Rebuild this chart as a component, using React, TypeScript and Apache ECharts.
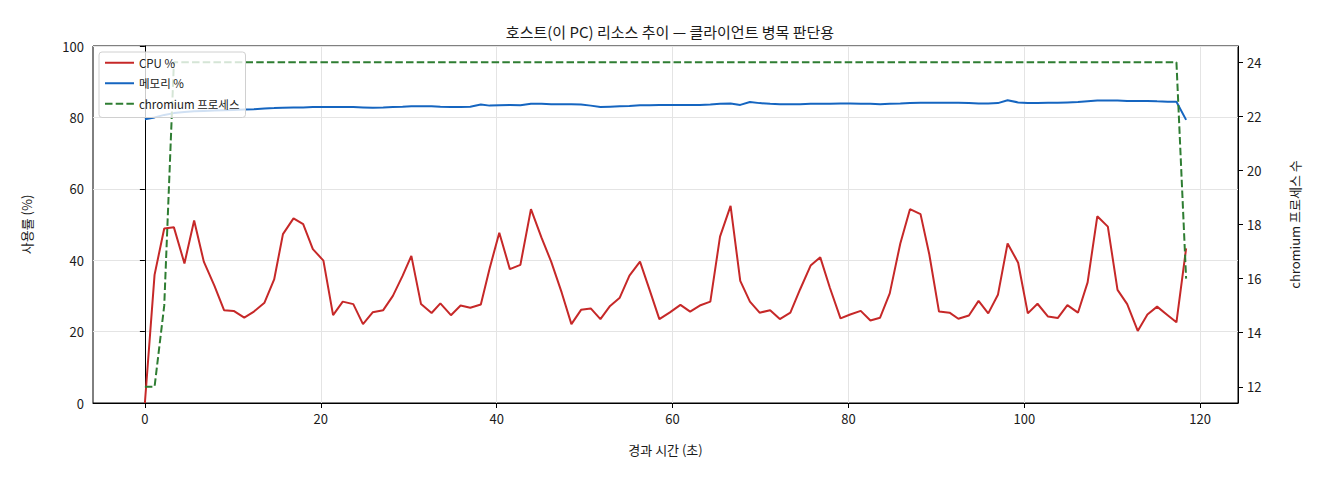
import React, { useEffect, useRef } from "react";
import * as echarts from "echarts";

// 경과 시간 (초)
const times: number[] = [
  0.0, 1.1, 2.2, 3.3, 4.5, 5.6, 6.7, 7.9, 9.0, 10.1, 11.3, 12.4, 13.6, 14.7, 15.7, 16.9,
  18.0, 19.1, 20.3, 21.4, 22.5, 23.7, 24.8, 25.9, 27.1, 28.2, 29.3, 30.3, 31.4, 32.6, 33.6,
  34.8, 35.9, 37.0, 38.2, 39.2, 40.3, 41.5, 42.7, 43.9, 45.1, 46.2, 47.4, 48.5, 49.6, 50.7,
  51.8, 52.9, 54.0, 55.1, 56.3, 57.4, 58.5, 59.7, 60.9, 62.0, 63.1, 64.3, 65.4, 66.6, 67.7,
  68.8, 69.9, 71.1, 72.2, 73.4, 74.5, 75.7, 76.8, 77.9, 79.1, 80.2, 81.4, 82.5, 83.6, 84.7,
  85.9, 87.0, 88.2, 89.2, 90.3, 91.5, 92.5, 93.7, 94.8, 95.9, 97.0, 98.1, 99.3, 100.4, 101.5,
  102.7, 103.8, 104.9, 106.1, 107.2, 108.3, 109.5, 110.6, 111.7, 112.9, 114.0, 115.1, 116.3,
  117.3, 118.4,
];

const cpu: number[] = [
  0, 35.9, 48.9, 49.2, 39.1, 51.1, 39.6, 32.9, 26.0, 25.8, 23.9, 25.6, 28.1, 34.6, 47.3, 51.7,
  50.1, 43.1, 39.9, 24.6, 28.4, 27.7, 22.1, 25.4, 26.0, 30.0, 35.6, 41.2, 27.7, 25.2, 27.9,
  24.6, 27.3, 26.7, 27.6, 37.7, 47.7, 37.5, 38.7, 54.3, 46.3, 39.6, 30.9, 22.1, 26.1, 26.5,
  23.5, 27.2, 29.5, 35.7, 39.6, 31.6, 23.5, 25.4, 27.5, 25.6, 27.3, 28.4, 46.6, 55.2, 34.2,
  28.4, 25.3, 26.0, 23.5, 25.3, 31.8, 38.5, 40.8, 32.2, 23.7, 24.8, 25.8, 23.1, 23.9, 30.7,
  44.7, 54.3, 52.9, 41.6, 25.6, 25.3, 23.6, 24.5, 28.6, 25.1, 30.3, 44.7, 39.3, 25.1, 27.8,
  24.2, 23.8, 27.4, 25.3, 33.8, 52.3, 49.4, 31.7, 27.7, 20.2, 24.8, 27.0, 24.6, 22.6, 43.3,
];

const memory: number[] = [
  79.5, 80.0, 80.7, 81.2, 81.5, 81.7, 81.8, 81.9, 82.0, 82.1, 82.2, 82.3, 82.5, 82.6, 82.7, 82.8,
  82.8, 82.9, 82.9, 82.9, 82.9, 82.9, 82.8, 82.7, 82.8, 82.9, 83.0, 83.1, 83.1, 83.1, 83.0,
  82.9, 82.9, 83.0, 83.6, 83.3, 83.4, 83.5, 83.4, 83.8, 83.8, 83.7, 83.7, 83.7, 83.6, 83.3,
  82.9, 83.0, 83.1, 83.2, 83.4, 83.4, 83.5, 83.5, 83.5, 83.5, 83.5, 83.6, 83.8, 83.9, 83.5,
  84.3, 84.0, 83.8, 83.7, 83.7, 83.7, 83.8, 83.8, 83.8, 83.9, 83.9, 83.8, 83.8, 83.7, 83.8,
  83.9, 84.0, 84.1, 84.1, 84.1, 84.1, 84.1, 84.0, 83.9, 83.9, 84.0, 84.8, 84.2, 84.0, 84.0,
  84.1, 84.1, 84.2, 84.3, 84.5, 84.7, 84.7, 84.7, 84.6, 84.6, 84.6, 84.5, 84.4, 84.4, 79.3,
];

const chromium: number[] = [
  12, 12, 15, 24, 24, 24, 24, 24, 24, 24, 24, 24, 24, 24, 24, 24, 24, 24, 24, 24, 24,
  24, 24, 24, 24, 24, 24, 24, 24, 24, 24, 24, 24, 24, 24, 24, 24, 24, 24, 24, 24, 24,
  24, 24, 24, 24, 24, 24, 24, 24, 24, 24, 24, 24, 24, 24, 24, 24, 24, 24, 24, 24, 24,
  24, 24, 24, 24, 24, 24, 24, 24, 24, 24, 24, 24, 24, 24, 24, 24, 24, 24, 24, 24, 24,
  24, 24, 24, 24, 24, 24, 24, 24, 24, 24, 24, 24, 24, 24, 24, 24, 24, 24, 24, 24, 24,
  16,
];

const xTicks = [0, 20, 40, 60, 80, 100, 120];
const rightTicks = [12, 14, 16, 18, 20, 22, 24];

const FONT = "'Noto Sans CJK KR', 'Noto Sans', sans-serif";
const TEXT = "#1a1a1a";

const pairs = (vals: number[]) => vals.map((v, i) => [times[i], v]);

const App: React.FC = () => {
  const chartRef = useRef<HTMLDivElement>(null);

  useEffect(() => {
    document.body.style.margin = "0";
    if (!chartRef.current) return;
    const chart = echarts.init(chartRef.current, null, { renderer: "svg" });

    const option: echarts.EChartsOption = {
      animation: false,
      backgroundColor: "#ffffff",
      textStyle: { fontFamily: FONT },
      title: {
        text: "호스트(이 PC) 리소스 추이 — 클라이언트 병목 판단용",
        left: 665,
        textAlign: "center",
        top: 19,
        textStyle: { fontSize: 15, fontWeight: "normal", color: TEXT, fontFamily: FONT },
      },
      legend: {
        left: 99,
        top: 52,
        orient: "vertical",
        itemWidth: 29,
        itemHeight: 14,
        itemGap: 9,
        padding: [5, 6, 8, 5],
        backgroundColor: "rgba(255,255,255,0.8)",
        borderColor: "#d0d0d0",
        borderWidth: 1,
        borderRadius: 3,
        itemStyle: { opacity: 0 },
        textStyle: { fontSize: 11.5, color: TEXT, fontFamily: FONT },
        data: ["CPU %", "메모리 %", "chromium 프로세스"],
      },
      grid: {
        left: 93,
        right: 82,
        top: 46,
        bottom: 77,
        show: true,
        borderColor: "#000",
        borderWidth: 1,
        backgroundColor: "transparent",
      },
      xAxis: {
        type: "value",
        min: -5.9,
        max: 124.3,
        name: "경과 시간 (초)",
        nameLocation: "middle",
        nameGap: 40,
        nameTextStyle: { fontSize: 13, color: TEXT },
        axisLine: { show: true, lineStyle: { color: "#000" } },
        axisTick: { show: true, length: 5, customValues: xTicks, lineStyle: { color: "#000" } },
        axisLabel: { customValues: xTicks, fontSize: 13, color: TEXT, margin: 9 },
        splitLine: { show: true, lineStyle: { color: "#e4e4e4" } },
      },
      yAxis: [
        {
          type: "value",
          min: 0,
          max: 100,
          interval: 20,
          name: "사용률 (%)",
          nameLocation: "middle",
          nameRotate: 90,
          nameGap: 60,
          nameTextStyle: { fontSize: 13, color: TEXT },
          axisLine: { show: true, lineStyle: { color: "#000" } },
          axisTick: { show: true, length: 5, lineStyle: { color: "#000" } },
          axisLabel: { fontSize: 13, color: TEXT, margin: 9 },
          splitLine: { show: true, lineStyle: { color: "#e4e4e4" } },
        },
        {
          type: "value",
          position: "right",
          min: 11.4,
          max: 24.6,
          name: "chromium 프로세스 수",
          nameLocation: "middle",
          nameRotate: 90,
          nameGap: 50,
          nameTextStyle: { fontSize: 13, color: TEXT },
          axisLine: { show: true, lineStyle: { color: "#000" } },
          axisTick: { show: true, length: 5, customValues: rightTicks, lineStyle: { color: "#000" } },
          axisLabel: { customValues: rightTicks, fontSize: 13, color: TEXT, margin: 9 },
          splitLine: { show: false },
        },
      ],
      series: [
        {
          name: "CPU %",
          type: "line",
          data: pairs(cpu),
          symbol: "none",
          lineStyle: { color: "#c62828", width: 2 },
          itemStyle: { color: "#c62828" },
        },
        {
          name: "메모리 %",
          type: "line",
          data: pairs(memory),
          symbol: "none",
          lineStyle: { color: "#1565c0", width: 2 },
          itemStyle: { color: "#1565c0" },
        },
        {
          name: "chromium 프로세스",
          type: "line",
          yAxisIndex: 1,
          data: pairs(chromium),
          symbol: "none",
          lineStyle: { color: "#2e7d32", width: 2, type: [7.5, 3.2] },
          itemStyle: { color: "#2e7d32" },
        },
      ],
    };

    chart.setOption(option);
    return () => {
      chart.dispose();
    };
  }, []);

  return <div ref={chartRef} style={{ width: "1320px", height: "480px" }} />;
};

export default App;
